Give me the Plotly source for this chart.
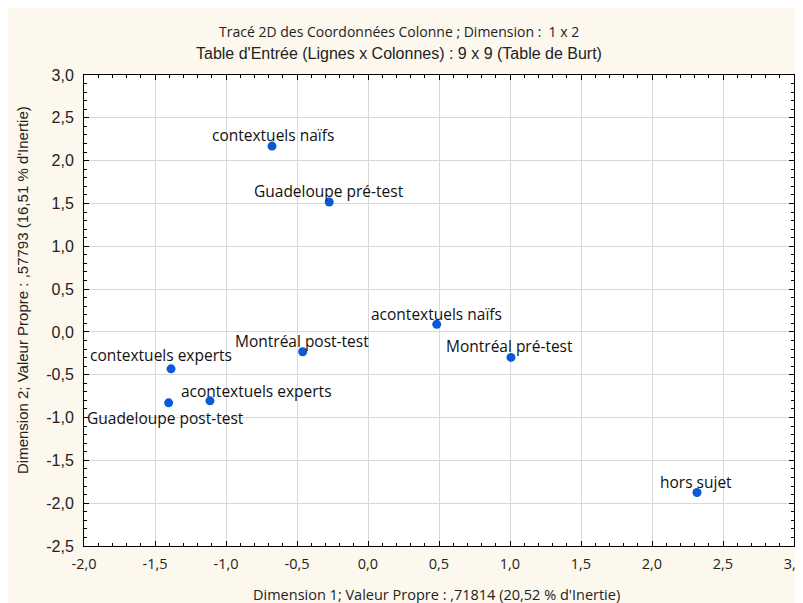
import plotly.graph_objects as go

labels = ["contextuels naïfs", "Guadeloupe pré-test", "acontextuels naïfs", "Montréal pré-test",
          "Montréal post-test", "contextuels experts", "acontextuels experts",
          "Guadeloupe post-test", "hors sujet"]
dim1 = [-0.676, -0.273, 0.484, 1.007, -0.46, -1.387, -1.113, -1.404, 2.317]
dim2 = [2.17, 1.516, 0.088, -0.298, -0.232, -0.431, -0.805, -0.828, -1.875]

x_ticks = [-2.0, -1.5, -1.0, -0.5, 0.0, 0.5, 1.0, 1.5, 2.0, 2.5, 3.0]
y_ticks = [-2.5, -2.0, -1.5, -1.0, -0.5, 0.0, 0.5, 1.0, 1.5, 2.0, 2.5, 3.0]
x_ticktext = [f"{v:.1f}".replace(".", ",") for v in x_ticks]
y_ticktext = [f"{v:.1f}".replace(".", ",") for v in y_ticks]

# label offsets in pixels (dx, dy) relative to the point
offsets = {
    "contextuels naïfs": (1, -11),
    "Guadeloupe pré-test": (0, -11),
    "acontextuels naïfs": (0, -10),
    "Montréal pré-test": (-1, -11),
    "Montréal post-test": (-1, -11),
    "contextuels experts": (-10, -14),
    "acontextuels experts": (47, -10),
    "Guadeloupe post-test": (-3, 15),
    "hors sujet": (-1, -10),
}

BG = "#FDF8EE"
label_font = dict(family="Open Sans, DejaVu Sans, sans-serif", size=15.5, color="#111111")

fig = go.Figure()
fig.add_trace(go.Scatter(
    x=dim1, y=dim2, mode="markers",
    marker=dict(size=9, color="#0A5AD6"),
    hoverinfo="text", text=labels, showlegend=False,
))

for lab, xv, yv in zip(labels, dim1, dim2):
    dx, dy = offsets[lab]
    fig.add_annotation(x=xv, y=yv, xref="x", yref="y", text=lab, showarrow=True,
                       arrowcolor="rgba(0,0,0,0)", ax=dx, ay=dy, axref="pixel", ayref="pixel",
                       xanchor="center", yanchor="middle", font=label_font)

axis_common = dict(
    showline=True, linecolor="black", linewidth=1, mirror="allticks",
    ticks="inside", ticklen=5, tickcolor="black", tickwidth=1,
    showgrid=True, gridcolor="#D8D8D8", gridwidth=1, zeroline=False,
    tickmode="array", ticklabeloverflow="allow", automargin=False,
)

fig.update_xaxes(range=[-2, 3], tickvals=x_ticks, ticktext=x_ticktext,
                 tickfont=dict(family="Open Sans, sans-serif", size=14.5, color="#222"),
                 ticklabelstandoff=5,
                 minor=dict(ticks="inside", ticklen=3, tickcolor="black", tickmode="linear",
                            tick0=-2, dtick=0.1, showgrid=False),
                 **axis_common)
fig.update_yaxes(range=[-2.5, 3], tickvals=y_ticks, ticktext=y_ticktext,
                 tickfont=dict(family="Liberation Sans, Arial, sans-serif", size=16, color="#222"),
                 ticklabelstandoff=6,
                 minor=dict(ticks="inside", ticklen=3, tickcolor="black", tickmode="linear",
                            tick0=-2.5, dtick=0.1, showgrid=False),
                 **axis_common)

# figure-pixel layout (page body adds an 8px offset)
L, R, T, B = 76, 786, 67, 538
title_annots = [
    dict(text="Tracé 2D des Coordonnées Colonne ; Dimension :  1 x 2", x=391, y=23,
         font=dict(family="Open Sans, sans-serif", size=14, color="#222")),
    dict(text="Table d'Entrée (Lignes x Colonnes) : 9 x 9 (Table de Burt)", x=391, y=45,
         font=dict(family="Liberation Sans, Arial, sans-serif", size=16, color="#222")),
    dict(text="Dimension 1; Valeur Propre : ,71814 (20,52 % d'Inertie)", x=428, y=586,
         font=dict(family="Open Sans, sans-serif", size=14.5, color="#222")),
]
for a in title_annots:
    fig.add_annotation(text=a["text"], xref="paper", yref="paper",
                       x=(a["x"] - L) / (R - L), y=1 - (a["y"] - T) / (B - T),
                       xanchor="center", yanchor="middle", showarrow=False, font=a["font"])
fig.add_annotation(text="Dimension 2; Valeur Propre : ,57793 (16,51 % d'Inertie)",
                   xref="paper", yref="paper", x=(14 - L) / (R - L), y=1 - (282 - T) / (B - T),
                   xanchor="center", yanchor="middle", textangle=-90, showarrow=False,
                   font=dict(family="Liberation Sans, Arial, sans-serif", size=15, color="#222"))

fig.update_layout(
    width=803, height=603,
    margin=dict(l=L, r=803 - R, t=T, b=603 - B, autoexpand=False),
    paper_bgcolor=BG, plot_bgcolor="white",
    showlegend=False,
)

fig.write_html("out.html")
